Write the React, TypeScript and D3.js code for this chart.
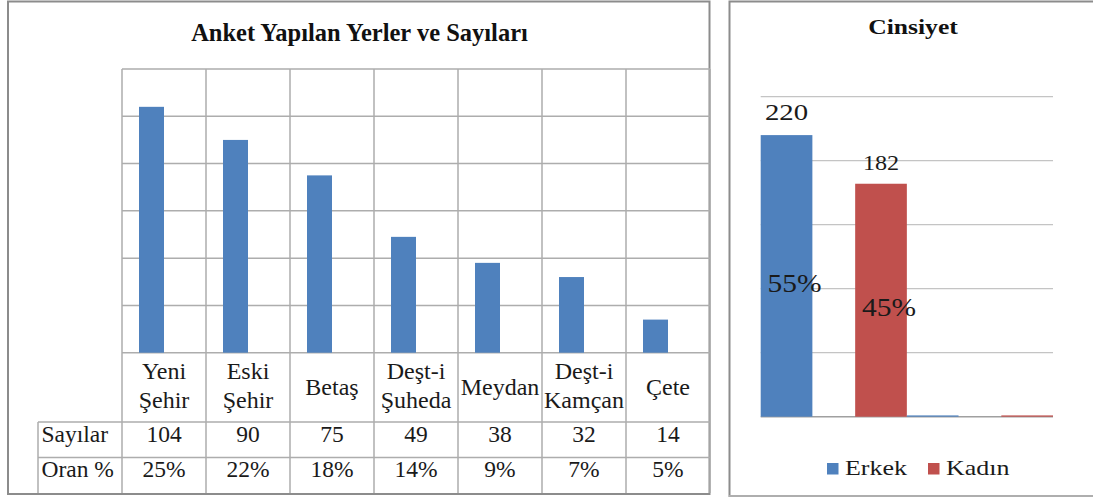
import React from "react";
import * as d3 from "d3";

// ---------- Left chart data ----------
const placeCategories = ["Yeni Şehir", "Eski Şehir", "Betaş", "Deşt-i Şuheda", "Meydan", "Deşt-i Kamçan", "Çete"];
const placeCounts = [104, 90, 75, 49, 38, 32, 14];
const placeShares = ["25%", "22%", "18%", "14%", "9%", "7%", "5%"];
const placeRowHeaders = ["Sayılar", "Oran %"];
const placeTicks = [0, 20, 40, 60, 80, 100, 120];

// ---------- Right chart data ----------
const genderGroups = ["g1", "g2"];
const genderSeries = ["Erkek", "Kadın"];
const erkekValues = [220, 1];
const kadinValues = [182, 1];
const genderShares = ["55%", "45%"];
const genderTicks = [0, 50, 100, 150, 200, 250];

const BLUE = "#4F81BD";
const RED = "#C0504D";
const FONT = "'Liberation Serif'";
const TXT = "#1a1a1a";

export default function App() {
  const lx = d3.scaleBand<string>().domain(placeCategories).range([122, 710]).paddingInner(0).paddingOuter(0);
  const lxInner = d3.scaleBand<string>().domain(["v", "_"]).range([0, lx.bandwidth()]).paddingInner(0).paddingOuter(0.68);
  const ly = d3.scaleLinear().domain([0, 120]).range([352.7, 69]);

  const rx = d3.scaleBand<string>().domain(genderGroups).range([760.7, 1053]).paddingInner(0).paddingOuter(0);
  const rxInner = d3.scaleBand<string>().domain(genderSeries).range([0, rx.bandwidth()]).paddingInner(0.453).paddingOuter(0);
  const ry = d3.scaleLinear().domain([0, 250]).range([416.7, 96.7]);
  const seriesValues = [erkekValues, kadinValues];
  const seriesColors = [BLUE, RED];

  const gridColor = "#adadad";
  const tableTop = 422;
  const rowH = 35.5;
  const tableBottom = tableTop + rowH * 2;
  const ts = { fontFamily: FONT };

  return (
    <div style={{ position: "absolute", left: 0, top: 0 }}>
      <svg width={1093} height={497} style={{ display: "block", background: "#fff" }}>
        <rect x={0} y={0} width={1093} height={497} fill="#fff" />

        {/* ===== Left panel ===== */}
        <rect x={8} y={1.5} width={701.5} height={492.5} fill="none" stroke="#8c8c8c" strokeWidth={2} />
        <text x={359.5} y={41} textAnchor="middle" fontSize={24.5} fontWeight="bold" fill="#111" style={ts}>
          Anket Yapılan Yerler ve Sayıları
        </text>

        {placeTicks.map((t) => (
          <line key={"lg" + t} x1={122} x2={710} y1={ly(t)} y2={ly(t)} stroke={gridColor} strokeWidth={1.5} />
        ))}
        {placeCategories.map((c) => (
          <line key={"lv" + c} x1={lx(c)!} x2={lx(c)!} y1={69} y2={tableBottom} stroke={gridColor} strokeWidth={1.5} />
        ))}
        <line x1={710} x2={710} y1={69} y2={tableBottom} stroke={gridColor} strokeWidth={1.5} />

        {placeCategories.map((c, i) => (
          <rect
            key={"lb" + c}
            x={lx(c)! + lxInner("v")!}
            y={ly(placeCounts[i])}
            width={lxInner.bandwidth()}
            height={ly(0) - ly(placeCounts[i])}
            fill={BLUE}
          />
        ))}

        {placeCategories.map((c) => {
          const cx = lx(c)! + lx.bandwidth() / 2;
          const sp = c.indexOf(" ");
          if (sp < 0) {
            return (
              <text key={"lc" + c} x={cx} y={395} textAnchor="middle" fontSize={24} fill={TXT} style={ts}>
                {c}
              </text>
            );
          }
          return (
            <text key={"lc" + c} x={cx} y={379} textAnchor="middle" fontSize={24} fill={TXT} style={ts}>
              <tspan x={cx} y={379}>{c.slice(0, sp)}</tspan>
              <tspan x={cx} y={408}>{c.slice(sp + 1)}</tspan>
            </text>
          );
        })}

        <line x1={38} x2={710} y1={tableTop} y2={tableTop} stroke={gridColor} strokeWidth={1.5} />
        <line x1={38} x2={710} y1={tableTop + rowH} y2={tableTop + rowH} stroke={gridColor} strokeWidth={1.5} />
        <line x1={38} x2={38} y1={tableTop} y2={tableBottom} stroke={gridColor} strokeWidth={1.5} />
        {placeRowHeaders.map((h, r) => (
          <text key={"rht" + h} x={41.5} y={441.5 + rowH * r} fontSize={23.5} fill={TXT} style={ts}>
            {h}
          </text>
        ))}
        {placeCategories.map((c, i) => (
          <text key={"tc" + c} x={lx(c)! + lx.bandwidth() / 2} y={441.5} textAnchor="middle" fontSize={23.5} fill={TXT} style={ts}>
            {placeCounts[i]}
          </text>
        ))}
        {placeCategories.map((c, i) => (
          <text key={"tp" + c} x={lx(c)! + lx.bandwidth() / 2} y={441.5 + rowH} textAnchor="middle" fontSize={23.5} fill={TXT} style={ts}>
            {placeShares[i]}
          </text>
        ))}

        {/* ===== Right panel ===== */}
        <rect x={729.5} y={1.5} width={400} height={494.5} fill="none" stroke="#8c8c8c" strokeWidth={2} />
        <line x1={729} x2={1093} y1={496} y2={496} stroke="#d0d0d0" strokeWidth={1} />
        <g transform="translate(913,34) scale(1.22,1)">
          <text x={0} y={0} textAnchor="middle" fontSize={21} fontWeight="bold" fill="#111" style={ts}>
            Cinsiyet
          </text>
        </g>

        {genderTicks.map((t) => (
          <line
            key={"rg" + t}
            x1={760.7}
            x2={1053}
            y1={ry(t)}
            y2={ry(t)}
            stroke={t === 0 ? "#a0a0a0" : "#c4c4c4"}
            strokeWidth={t === 0 ? 1.5 : 1.2}
          />
        ))}

        {genderGroups.map((g, gi) =>
          genderSeries.map((s, si) => {
            const v = seriesValues[si][gi];
            return (
              <rect
                key={"rb" + g + s}
                x={rx(g)! + rxInner(s)!}
                y={ry(v)}
                width={rxInner.bandwidth()}
                height={ry(0) - ry(v)}
                fill={seriesColors[si]}
              />
            );
          })
        )}

        {genderSeries.map((s, si) => {
          const v = seriesValues[si][0];
          const cx = rx("g1")! + rxInner(s)! + rxInner.bandwidth() / 2;
          const fs = si === 0 ? 24 : 21;
          const sx = si === 0 ? 1.2 : 1.15;
          const off = si === 0 ? 15 : 14;
          return (
            <g key={"rv" + s} transform={`translate(${cx},${ry(v) - off}) scale(${sx},1)`}>
              <text x={0} y={0} textAnchor="middle" fontSize={fs} fill={TXT} style={ts}>
                {v}
              </text>
            </g>
          );
        })}
        {genderSeries.map((s, si) => {
          const v = seriesValues[si][0];
          const cx = rx("g1")! + rxInner(s)! + rxInner.bandwidth() / 2 + 8;
          const cy = (ry(v) + ry(0)) / 2 + 16;
          return (
            <g key={"rp" + s} transform={`translate(${cx},${cy}) scale(1.18,1)`}>
              <text x={0} y={0} textAnchor="middle" fontSize={25} fill={TXT} style={ts}>
                {genderShares[si]}
              </text>
            </g>
          );
        })}

        {genderSeries.map((s, si) => {
          const lxPos = [827, 928][si];
          return (
            <g key={"lg" + s}>
              <rect x={lxPos} y={463} width={11.5} height={11.5} fill={seriesColors[si]} />
              <g transform={`translate(${lxPos + 18},475) scale(1.18,1)`}>
                <text x={0} y={0} fontSize={22} fill={TXT} style={ts}>
                  {s}
                </text>
              </g>
            </g>
          );
        })}
      </svg>
    </div>
  );
}
